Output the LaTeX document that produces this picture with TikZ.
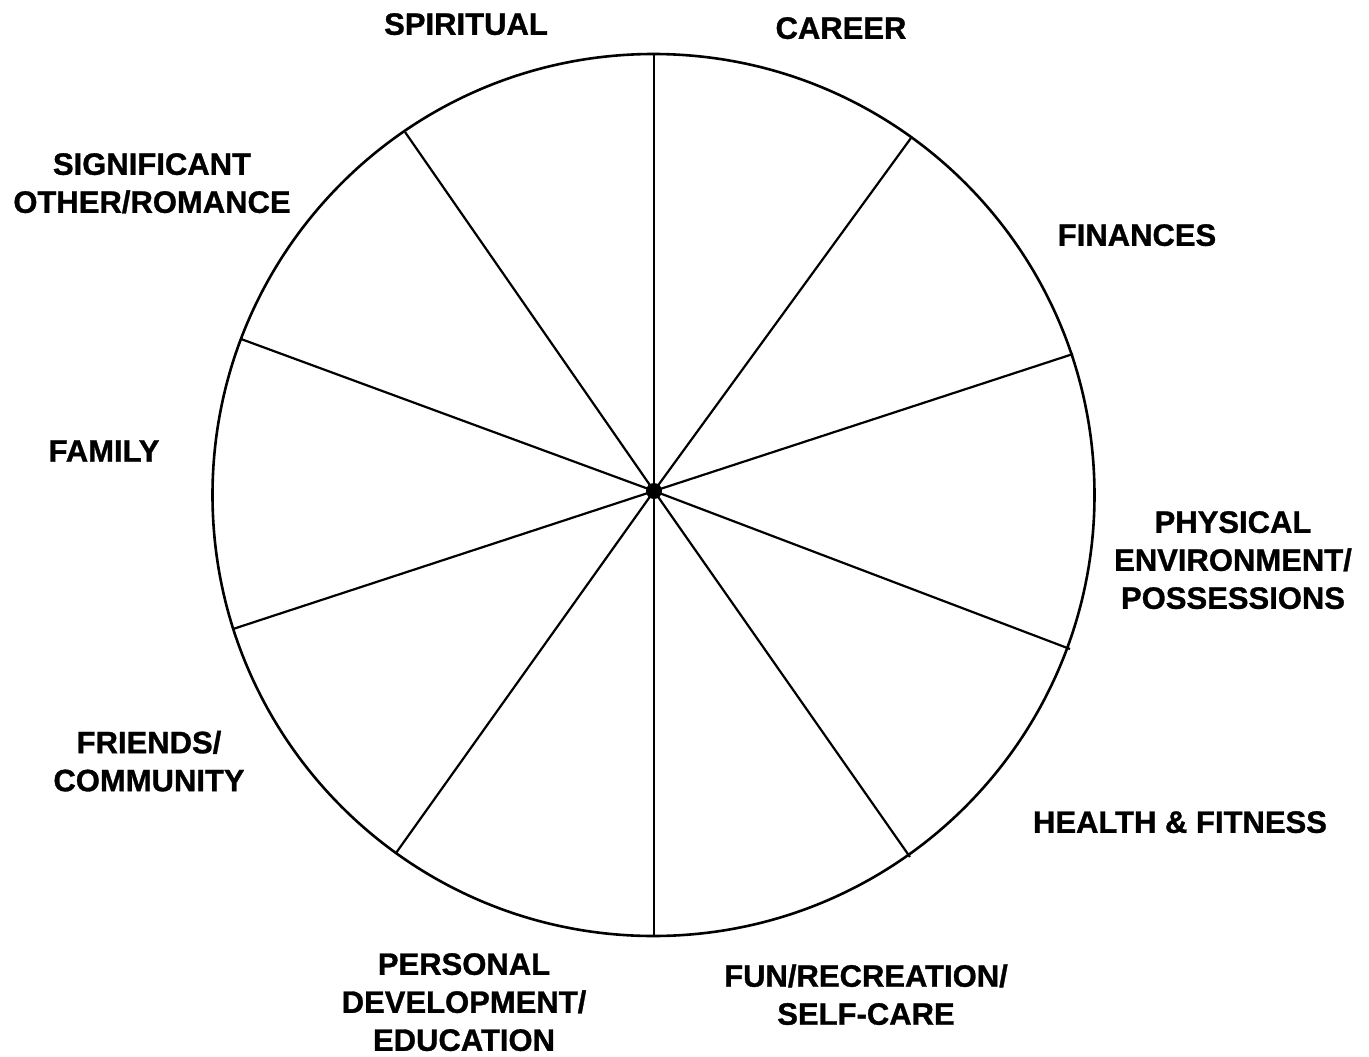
\documentclass[tikz,border=0pt]{standalone}
\usepackage{fontspec}
\setmainfont{Liberation Sans}[BoldFeatures={FakeBold=1}]
\usetikzlibrary{calc}
\tikzset{
  lbl/.style={font=\fontsize{31}{38}\selectfont\bfseries, align=center, inner sep=0pt, text depth=0pt},
  spoke/.style={line width=2.2pt, black},
  rim/.style={line width=2.6pt, black}
}
\begin{document}
\begin{tikzpicture}[x=1pt,y=-1pt]
\useasboundingbox[fill=white] (0,0) rectangle (1369,1057);
\coordinate (C) at (653.5,495);
\coordinate (O) at (654,491);
\draw[rim] (C) circle[radius=441];
\foreach \p in {(654,54),(911,138),(1073,354),(1070,649),(910,857),(654,937),(396,853),(233,629),(241,339),(405,132)}{
  \draw[spoke] (O) -- \p;
}
\fill (O) circle[radius=8];
\node[lbl] (spiritual) at (466,24) {SPIRITUAL};
\node[lbl] (career) at (841,28) {CAREER};
\node[lbl] (finances) at (1137,235) {FINANCES};
\node[lbl] (physical) at (1233,560) {PHYSICAL\\ENVIRONMENT/\\POSSESSIONS};
\node[lbl] (health) at (1180,822) {HEALTH \& FITNESS};
\node[lbl] (fun) at (866,994.5) {FUN/RECREATION/\\SELF-CARE};
\node[lbl] (personal) at (464,1002) {PERSONAL\\DEVELOPMENT/\\EDUCATION};
\node[lbl] (friends) at (149,761) {FRIENDS/\\COMMUNITY};
\node[lbl] (family) at (104,451) {FAMILY};
\node[lbl] (significant) at (152,183) {SIGNIFICANT\\OTHER/ROMANCE};
\end{tikzpicture}
\end{document}
